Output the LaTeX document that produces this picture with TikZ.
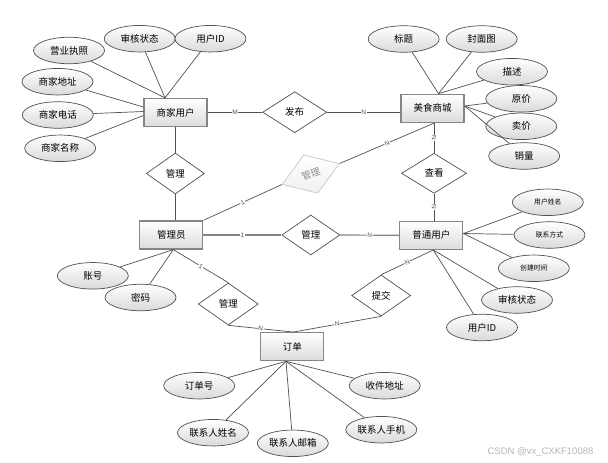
\documentclass[tikz,border=0pt]{standalone}
\usepackage{fontspec}
\setmainfont{Liberation Sans}
\newfontfamily\cjk{Noto Sans CJK SC}
\usetikzlibrary{shapes.geometric}
\definecolor{bd}{HTML}{505050}
\definecolor{entb}{HTML}{858585}
\definecolor{entf}{HTML}{DCDCDC}
\definecolor{attf}{HTML}{DADADA}
\definecolor{fadeb}{HTML}{C8C8C8}
\definecolor{fadet}{HTML}{8C8C8C}
\definecolor{wm}{HTML}{B4B4B4}
\begin{document}
\begin{tikzpicture}[x=1pt,y=-1pt,
  ent/.style={rectangle,draw=entb,line width=1.3pt,top color=white,bottom color=entf,
    minimum width=63pt,minimum height=28pt,inner sep=0pt,font=\cjk\fontsize{9.5}{11}\selectfont},
  attr/.style={ellipse,draw=bd,line width=0.7pt,top color=white,bottom color=attf,
    minimum width=71pt,minimum height=26.5pt,inner sep=0pt,font=\cjk\fontsize{9.5}{11}\selectfont},
  sattr/.style={attr,font=\cjk\fontsize{6.8}{8}\selectfont},
  rel/.style={diamond,draw=bd,line width=0.7pt,fill=white,inner sep=0pt,
    font=\cjk\fontsize{9.5}{11}\selectfont},
  conn/.style={draw=bd,line width=0.7pt},
  tconn/.style={draw=entb,line width=1.2pt},
  card/.style={font=\fontsize{6.5}{7}\selectfont,fill=white,inner sep=0.6pt,sloped,midway,text=bd}
]
\useasboundingbox (0,0) rectangle (608,463);

% entities
\node[ent] (sj)  at (175.5,112.5) {商家用户};
\node[ent] (ms)  at (432.5,108.3) {美食商城};
\node[ent] (gly) at (171.3,235)   {管理员};
\node[ent] (pt)  at (431.3,235.3) {普通用户};
\node[ent] (dd)  at (292.3,346.7) {订单};

% relations
\node[rel,minimum width=64pt,minimum height=41pt] (fb)  at (294.7,112.2) {发布};
\node[rel,minimum width=58pt,minimum height=41pt] (gl1) at (175.3,173.5) {管理};
\node[rel,minimum width=65pt,minimum height=40pt] (ck)  at (434,173.3)   {查看};
\node[rel,minimum width=58pt,minimum height=40pt] (gl2) at (310.8,235)   {管理};
\node[rel,minimum width=60pt,minimum height=42pt] (gl3) at (228.3,304)   {管理};
\node[rel,minimum width=59pt,minimum height=41pt] (tj)  at (381.2,295.5) {提交};
\node[rel,draw=fadeb,text=fadet,top color=white,bottom color=white!94!black,
  minimum width=61pt,minimum height=41pt,rotate=20] (gl0) at (310.8,174) {管理};

% attributes of 商家用户
\node[attr] (yyzz) at (69,50.5)    {营业执照};
\node[attr] (shzt) at (139.7,38.7) {审核状态};
\node[attr] (yhid) at (210.5,38.7) {用户ID};
\node[attr] (sjdz) at (57.5,81.7)  {商家地址};
\node[attr] (sjdh) at (57.8,115)   {商家电话};
\node[attr] (sjmc) at (60.2,148.3) {商家名称};

% attributes of 美食商城
\node[attr] (bt)   at (403.7,39)   {标题};
\node[attr] (fmt)  at (481.7,39)   {封面图};
\node[attr] (ms1)  at (512,71.7)   {描述};
\node[attr] (yj)   at (521.3,98.8) {原价};
\node[attr] (mj)   at (521.3,126.3){卖价};
\node[attr] (xl)   at (524.2,156)  {销量};

% attributes of 管理员
\node[attr] (zh)   at (92.8,275.8) {账号};
\node[attr] (mm)   at (140.5,297.5){密码};

% attributes of 普通用户
\node[sattr] (yhxm) at (547.8,202.3) {用户姓名};
\node[sattr] (lxfs) at (549.5,235)   {联系方式};
\node[sattr] (cjsj) at (533.8,268.3) {创建时间};
\node[attr]  (shzt2) at (517,300)    {审核状态};
\node[attr]  (yhid2) at (482,327.5)  {用户ID};

% attributes of 订单
\node[attr] (ddh)  at (199.2,385.7) {订单号};
\node[attr] (sjdz2) at (384.7,385.7) {收件地址};
\node[attr] (lxrxm) at (213,432.7)  {联系人姓名};
\node[attr] (lxryx) at (292.8,443.3) {联系人邮箱};
\node[attr] (lxrsj) at (381.3,429.7) {联系人手机};

% anchor points
\coordinate (sjT)  at ([xshift=-10.5pt]sj.north);
\coordinate (sjL1) at ([yshift=5.5pt]sj.west);
\coordinate (sjL2) at ([yshift=1pt]sj.west);
\coordinate (sjL3) at ([yshift=-3pt]sj.west);
\coordinate (msT)  at ([xshift=6pt]ms.north);
\coordinate (msR)  at ([yshift=2.3pt]ms.east);
\coordinate (glyB) at ([xshift=2pt]gly.south);
\coordinate (ptR)  at ([yshift=1.8pt]pt.east);
\coordinate (ptB)  at ([xshift=2pt]pt.south);
\coordinate (ddT)  at ([xshift=1pt]dd.north);
\coordinate (ddB)  at ([xshift=-6.3pt]dd.south);

% attribute connectors
\foreach \a in {yyzz,shzt,yhid} \draw[conn] (\a) -- (sjT);
\draw[conn] (sjdz) -- (sjL1);
\draw[conn] (sjdh) -- (sjL2);
\draw[conn] (sjmc) -- (sjL3);
\foreach \a in {bt,fmt,ms1} \draw[conn] (\a) -- (msT);
\foreach \a in {yj,mj,xl} \draw[conn] (\a) -- (msR);
\foreach \a in {zh,mm} \draw[conn] (\a) -- (glyB);
\foreach \a in {yhxm,lxfs,cjsj} \draw[conn] (\a) -- (ptR);
\foreach \a in {shzt2,yhid2} \draw[conn] (\a) -- (ptB);
\foreach \a in {ddh,sjdz2,lxrxm,lxryx,lxrsj} \draw[conn] (\a) -- (ddB);

% relationship connectors
\draw[conn] (sj.east |- fb) -- node[card]{M} (fb.west);
\draw[conn] (fb.east) -- node[card]{N} (ms.west |- fb);
\draw[conn] (sj.south -| gl1) -- (gl1.north);
\draw[conn] (gl1.south) -- (gly.north -| gl1);
\draw[conn] (ck.north |- ms.south) -- node[card]{N} (ck.north);
\draw[conn] (ck.south) -- node[card]{N} (ck.south |- pt.north);
\draw[conn] (gly.north east) -- node[card]{1} (gl0.west);
\draw[conn] (gl0.east) -- node[card]{N} ([xshift=2pt]ms.south);
\draw[tconn] (gly.east) -- node[card]{1} (gl2.west);
\draw[tconn] (gl2.east) -- node[card]{N} (pt.west);
\draw[conn] (glyB) -- node[card]{1} (gl3.north);
\draw[conn] (gl3.south) -- node[card]{N} (ddT);
\draw[conn] (ptB) -- node[card]{N} (tj.north);
\draw[conn] (tj.south) -- node[card]{N} (ddT);

% watermark
\node[text=wm,font=\fontsize{9.5}{11}\selectfont] (wmk) at (540.5,452) {CSDN @vx\_CXKF10088};
\end{tikzpicture}
\end{document}
